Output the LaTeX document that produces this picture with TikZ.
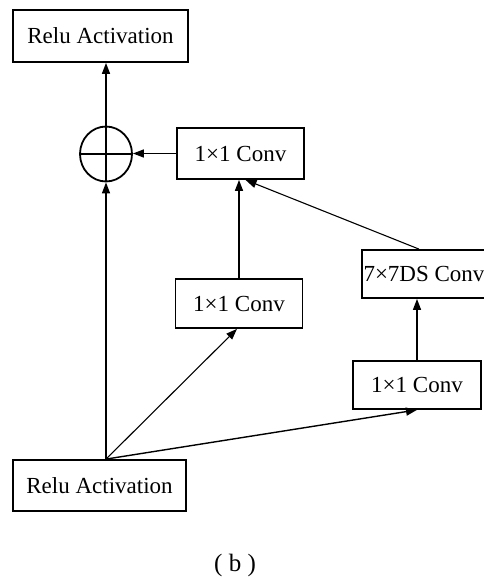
\documentclass[tikz,border=0pt]{standalone}
\usepackage{fontspec}
\setmainfont{Liberation Serif}
\usetikzlibrary{arrows.meta,shapes.geometric}
\tikzset{
  blk/.style={draw,line width=1.8pt,inner sep=0pt,minimum width=127pt,minimum height=49pt,
    font=\fontsize{23}{27}\selectfont},
  arr/.style={line width=1.4pt,-{Triangle[length=11pt,width=8pt]}},
  thin arr/.style={line width=1.1pt,-{Triangle[length=11pt,width=8pt]}}
}
\begin{document}
\begin{tikzpicture}[x=1pt,y=-1pt]
  \useasboundingbox (0,0) rectangle (483,580);
  % blocks
  \node[blk,minimum width=175pt,minimum height=52pt] (topRelu) at (100.5,36) {Relu Activation};
  \node[blk,minimum width=173pt,minimum height=51pt] (botRelu) at (99.5,485.5) {Relu Activation};
  \node[blk,minimum height=51pt] (topConv) at (240.5,153.5) {1×1 Conv};
  \node[blk] (midConv) at (239,303.5) {1×1 Conv};
  \node[blk,minimum width=124pt,minimum height=48pt] (dsConv) at (424,274) {7×7DS Conv};
  \node[blk,minimum width=128pt,minimum height=48pt] (botConv) at (417,385) {1×1 Conv};
  \node[draw,ellipse,line width=1.8pt,minimum width=52pt,minimum height=55pt] (sum) at (106,154) {};
  \node[font=\fontsize{25}{29}\selectfont] (cap) at (235,565) {( b )};
  % sum sign
  \draw[line width=1.4pt] (sum.west) -- (sum.east);
  \draw[line width=1.4pt] (sum.south) -- (sum.north);
  \coordinate (fork) at (sum |- botRelu.north);
  % connectors
  \draw[arr] (sum.north) -- (sum.north |- topRelu.south);
  \draw[arr] (topConv.west) -- (topConv.west -| sum.east);
  \draw[arr] (midConv.north) -- (midConv.north |- topConv.south);
  \draw[thin arr] ([xshift=-5pt]dsConv.north) -- ([xshift=5pt]topConv.south);
  \draw[arr] (botConv.north) -- (botConv.north |- dsConv.south);
  \draw[arr] (fork) -- (sum.south);
  \draw[thin arr] (fork) -- ([xshift=-2pt]midConv.south);
  \draw[arr] (fork) -- (botConv.south);
\end{tikzpicture}
\end{document}
